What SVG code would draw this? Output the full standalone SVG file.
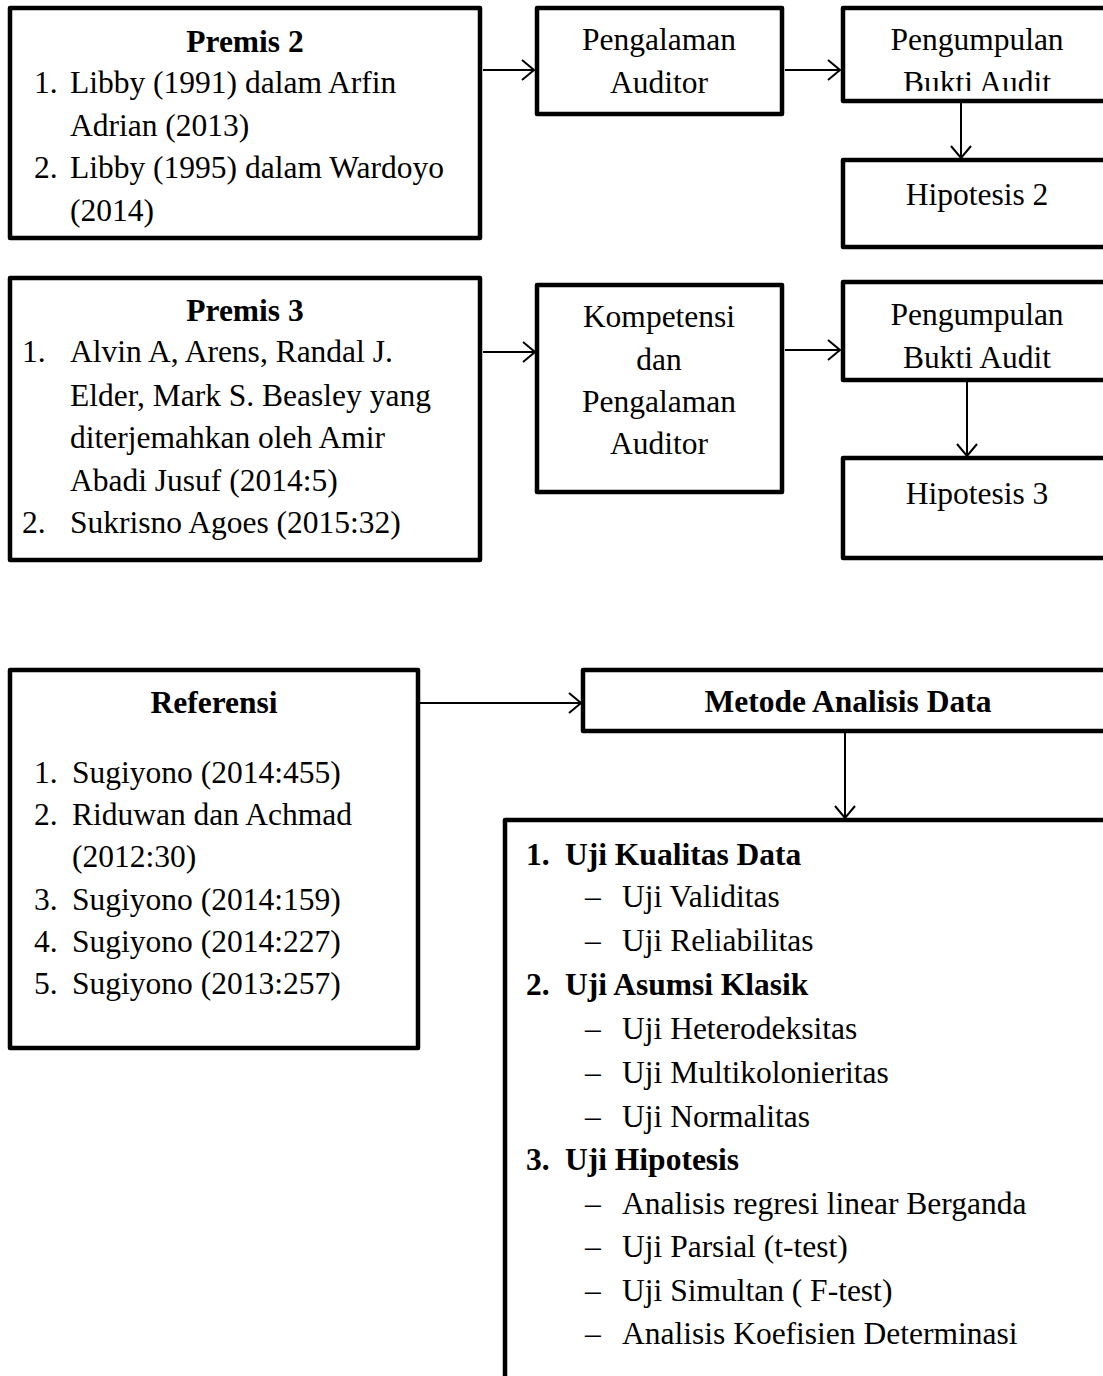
<svg xmlns="http://www.w3.org/2000/svg" width="1103" height="1376" viewBox="0 0 1103 1376">
<defs>
<style>
.box{fill:#fff;stroke:#000;stroke-width:4.5;stroke-linejoin:round}
.t{font-family:"Liberation Serif","Times New Roman",serif;font-size:31.5px;fill:#000}
.b{font-weight:bold}
.c{text-anchor:middle}
.con{stroke:#000;stroke-width:2;fill:none}
</style>
<marker id="arr" viewBox="0 0 14 22" refX="13" refY="11" markerWidth="14" markerHeight="22" markerUnits="userSpaceOnUse" orient="auto">
<path d="M1,1 L13,11 L1,21" fill="none" stroke="#000" stroke-width="2"/>
</marker>
<clipPath id="clipBA"><rect x="843" y="8" width="270" height="83"/></clipPath>
</defs>
<rect width="1103" height="1376" fill="#fff"/>

<g id="connectors">
<line class="con" x1="483" y1="70" x2="534" y2="70" marker-end="url(#arr)"/>
<line class="con" x1="785" y1="70" x2="840" y2="70" marker-end="url(#arr)"/>
<line class="con" x1="961" y1="102" x2="961" y2="158" marker-end="url(#arr)"/>
<line class="con" x1="483" y1="352" x2="535" y2="352" marker-end="url(#arr)"/>
<line class="con" x1="785" y1="350" x2="840" y2="350" marker-end="url(#arr)"/>
<line class="con" x1="967" y1="382" x2="967" y2="456" marker-end="url(#arr)"/>
<line class="con" x1="418" y1="703" x2="581" y2="703" marker-end="url(#arr)"/>
<line class="con" x1="845" y1="731" x2="845" y2="818" marker-end="url(#arr)"/>
</g>

<g id="premis2">
<rect class="box" x="10" y="8" width="470" height="230"/>
<text class="t b c" x="245" y="52">Premis 2</text>
<text class="t" x="34" y="93">1.</text>
<text class="t" x="70" y="93">Libby (1991) dalam Arfin</text>
<text class="t" x="70" y="136">Adrian (2013)</text>
<text class="t" x="34" y="178">2.</text>
<text class="t" x="70" y="178">Libby (1995) dalam Wardoyo</text>
<text class="t" x="70" y="221">(2014)</text>
</g>

<g id="pengalaman">
<rect class="box" x="537" y="8" width="245" height="106"/>
<text class="t c" x="659" y="50">Pengalaman</text>
<text class="t c" x="659" y="93">Auditor</text>
</g>

<g id="pengumpulan2">
<rect class="box" x="843" y="8" width="280" height="93"/>
<text class="t c" x="977" y="50">Pengumpulan</text>
<text class="t c" x="977" y="93" clip-path="url(#clipBA)">Bukti Audit</text>
</g>

<g id="hipotesis2">
<rect class="box" x="843" y="160" width="280" height="87"/>
<text class="t c" x="977" y="205">Hipotesis 2</text>
</g>

<g id="premis3">
<rect class="box" x="10" y="278" width="470" height="282"/>
<text class="t b c" x="245" y="321">Premis 3</text>
<text class="t" x="22" y="362">1.</text>
<text class="t" x="70" y="362">Alvin A, Arens, Randal J.</text>
<text class="t" x="70" y="406">Elder, Mark S. Beasley yang</text>
<text class="t" x="70" y="448">diterjemahkan oleh Amir</text>
<text class="t" x="70" y="491">Abadi Jusuf (2014:5)</text>
<text class="t" x="22" y="533">2.</text>
<text class="t" x="70" y="533">Sukrisno Agoes (2015:32)</text>
</g>

<g id="kompetensi">
<rect class="box" x="537" y="285" width="245" height="207"/>
<text class="t c" x="659" y="327">Kompetensi</text>
<text class="t c" x="659" y="370">dan</text>
<text class="t c" x="659" y="412">Pengalaman</text>
<text class="t c" x="659" y="454">Auditor</text>
</g>

<g id="pengumpulan3">
<rect class="box" x="843" y="282" width="280" height="98"/>
<text class="t c" x="977" y="325">Pengumpulan</text>
<text class="t c" x="977" y="368">Bukti Audit</text>
</g>

<g id="hipotesis3">
<rect class="box" x="843" y="458" width="280" height="100"/>
<text class="t c" x="977" y="504">Hipotesis 3</text>
</g>

<g id="referensi">
<rect class="box" x="10" y="670" width="408" height="378"/>
<text class="t b c" x="214" y="713">Referensi</text>
<text class="t" x="34" y="783">1.</text>
<text class="t" x="72" y="783">Sugiyono (2014:455)</text>
<text class="t" x="34" y="825">2.</text>
<text class="t" x="72" y="825">Riduwan dan Achmad</text>
<text class="t" x="72" y="867">(2012:30)</text>
<text class="t" x="34" y="910">3.</text>
<text class="t" x="72" y="910">Sugiyono (2014:159)</text>
<text class="t" x="34" y="952">4.</text>
<text class="t" x="72" y="952">Sugiyono (2014:227)</text>
<text class="t" x="34" y="994">5.</text>
<text class="t" x="72" y="994">Sugiyono (2013:257)</text>
</g>

<g id="metode">
<rect class="box" x="583" y="670" width="540" height="61"/>
<text class="t b c" x="848" y="712">Metode Analisis Data</text>
</g>

<g id="uji">
<rect class="box" x="505" y="820" width="620" height="580"/>
<text class="t b" x="526" y="865">1.</text>
<text class="t b" x="565" y="865">Uji Kualitas Data</text>
<text class="t" x="585" y="907">–</text>
<text class="t" x="622" y="907">Uji Validitas</text>
<text class="t" x="585" y="951">–</text>
<text class="t" x="622" y="951">Uji Reliabilitas</text>
<text class="t b" x="526" y="995">2.</text>
<text class="t b" x="565" y="995">Uji Asumsi Klasik</text>
<text class="t" x="585" y="1039">–</text>
<text class="t" x="622" y="1039">Uji Heterodeksitas</text>
<text class="t" x="585" y="1083">–</text>
<text class="t" x="622" y="1083">Uji Multikolonieritas</text>
<text class="t" x="585" y="1127">–</text>
<text class="t" x="622" y="1127">Uji Normalitas</text>
<text class="t b" x="526" y="1170">3.</text>
<text class="t b" x="565" y="1170">Uji Hipotesis</text>
<text class="t" x="585" y="1214">–</text>
<text class="t" x="622" y="1214">Analisis regresi linear Berganda</text>
<text class="t" x="585" y="1257">–</text>
<text class="t" x="622" y="1257">Uji Parsial (t-test)</text>
<text class="t" x="585" y="1301">–</text>
<text class="t" x="622" y="1301">Uji Simultan ( F-test)</text>
<text class="t" x="585" y="1344">–</text>
<text class="t" x="622" y="1344">Analisis Koefisien Determinasi</text>
</g>
</svg>
